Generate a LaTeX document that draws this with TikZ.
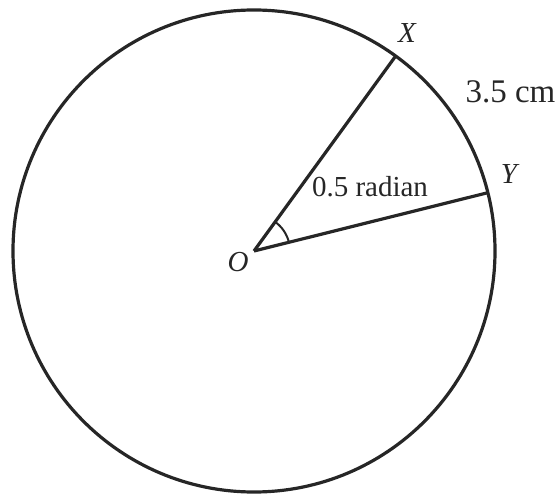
\documentclass[tikz,border=0pt]{standalone}
\usepackage{fontspec}
\setmainfont{Liberation Serif}
\usetikzlibrary{calc}
\begin{document}
\begin{tikzpicture}[x=1pt,y=1pt,
  geo/.style={draw=black!85,line width=3.2pt},
  thin geo/.style={draw=black!85,line width=2pt},
  lab/.style={text=black!85,font=\fontsize{29}{31}\selectfont},
  biglab/.style={text=black!85,font=\fontsize{33}{35}\selectfont}]
\useasboundingbox (0,0) rectangle (556,496);
\coordinate (O) at (254,245);
\coordinate (X) at ($(O)+(54:241)$);
\coordinate (Y) at ($(O)+(14:241)$);
\draw[geo] (O) circle[radius=241];
\draw[geo] (O) -- (X);
\draw[geo] (O) -- (Y);
\draw[thin geo] ($(O)+(14:36)$) arc[start angle=14,end angle=54,radius=36];
\node[lab] (lO) at (238,234) {\itshape O};
\node[lab] (lX) at (407,463) {\itshape X};
\node[lab] (lY) at (509,322) {\itshape Y};
\node[lab] (lang) at (370,309) {0.5 radian};
\node[biglab,anchor=west] (larc) at (462,404) {3.5 cm};
\end{tikzpicture}
\end{document}
